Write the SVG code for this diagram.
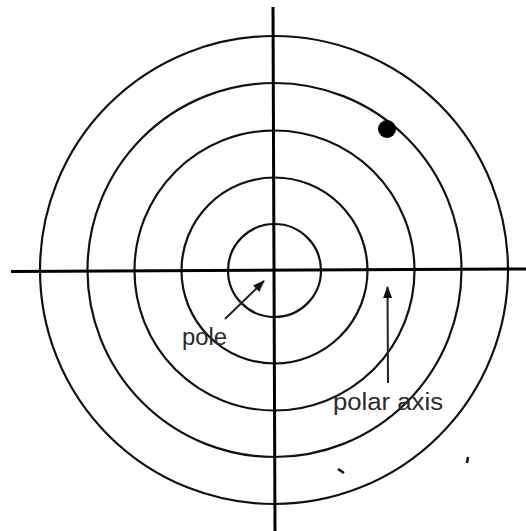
<svg xmlns="http://www.w3.org/2000/svg" width="526" height="531" viewBox="0 0 526 531">
<defs>
<style>
.ring{fill:none;stroke:#111;stroke-width:2.2}
.axis{stroke:#000;stroke-width:3;fill:none}
.arr{stroke:#222;stroke-width:2;fill:none}
.lbl{font-family:"Liberation Sans",Arial,sans-serif;font-size:23px;fill:#2a2a2a}
</style>
<marker id="ah" markerWidth="12" markerHeight="9" refX="11" refY="4.5" orient="auto" markerUnits="userSpaceOnUse">
<path d="M0,0 L12,4.5 L0,9 Z" fill="#111"/>
</marker>
</defs>
<rect width="526" height="531" fill="#fff"/>
<g id="rings">
<circle class="ring" cx="274.5" cy="270.5" r="46.5"/>
<circle class="ring" cx="274.5" cy="270.5" r="93"/>
<circle class="ring" cx="274.5" cy="270.5" r="140"/>
<circle class="ring" cx="274.5" cy="270" r="187"/>
<circle class="ring" cx="274" cy="270" r="234"/>
</g>
<g id="axes">
<line class="axis" x1="11" y1="271.5" x2="526" y2="269"/>
<line class="axis" x1="273" y1="7" x2="275" y2="531"/>
</g>
<g id="point">
<circle cx="387" cy="129" r="9" fill="#000"/>
</g>
<g id="connectors">
<line class="arr" x1="225" y1="319" x2="264" y2="281" marker-end="url(#ah)"/>
<line class="arr" x1="388" y1="383" x2="387.5" y2="287" marker-end="url(#ah)"/>
</g>
<g id="pole">
<text class="lbl" x="182" y="345" textLength="45" lengthAdjust="spacingAndGlyphs">pole</text>
</g>
<g id="polar-axis">
<text class="lbl" x="333" y="410" textLength="110" lengthAdjust="spacingAndGlyphs">polar axis</text>
</g>
<g id="specks">
<path d="M338,469 L344,473" stroke="#111" stroke-width="2.5"/>
<path d="M468,457 L467,463" stroke="#111" stroke-width="2.5"/>
</g>
</svg>
